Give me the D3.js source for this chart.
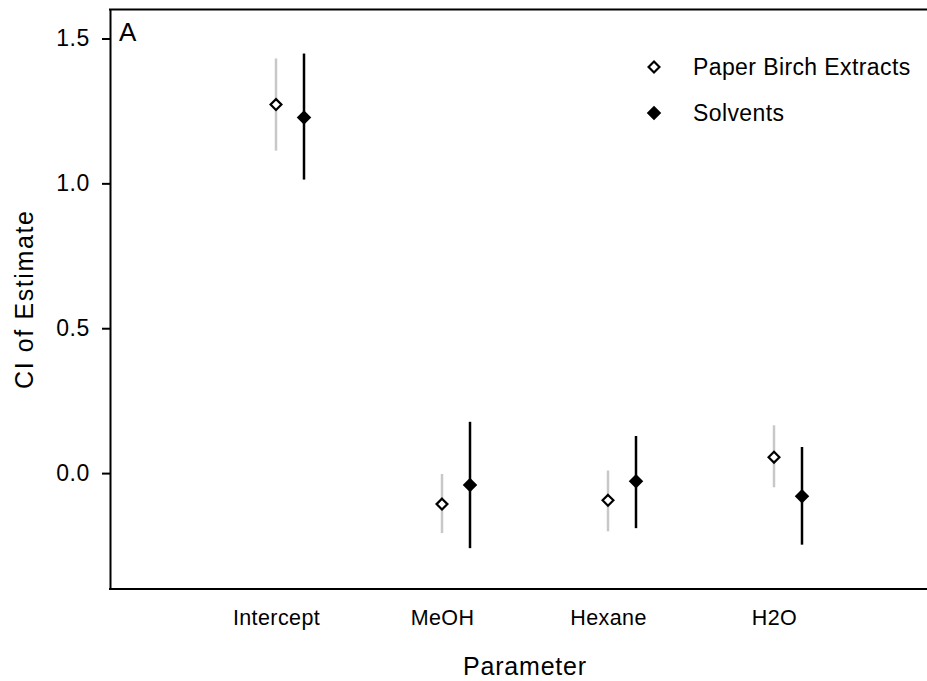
<!DOCTYPE html>
<html>
<head>
<meta charset="utf-8">
<script src="https://cdn.jsdelivr.net/npm/d3@7"></script>
<style>
  html, body { margin: 0; padding: 0; background: #fff; }
  svg { display: block; font-family: "Liberation Sans", Arial, sans-serif; }
</style>
</head>
<body>
<svg id="chart" width="927" height="681"></svg>
<script>
// ---- data ----
const categories = ["Intercept", "MeOH", "Hexane", "H2O"];
const birchEst = [1.272, -0.107, -0.094, 0.055];
const birchLo  = [1.113, -0.207, -0.201, -0.049];
const birchHi  = [1.431, -0.003, 0.009, 0.165];
const solvEst  = [1.227, -0.041, -0.028, -0.080];
const solvLo   = [1.013, -0.259, -0.190, -0.247];
const solvHi   = [1.448, 0.177, 0.128, 0.090];
const yTicks = [0.0, 0.5, 1.0, 1.5];
const seriesNames = ["Paper Birch Extracts", "Solvents"];

// ---- layout ----
const svg = d3.select("#chart");
const mLeft = 110, mRight = 940, mTop = 9.5, mBottom = 589;

const x = d3.scalePoint().domain(categories).range([mLeft, mRight]).padding(1);
const y = d3.scaleLinear().domain([-0.4, 1.6]).range([mBottom, mTop]);
const offset = 28;

// axes
const yAxis = svg.append("g").attr("transform", `translate(${mLeft},0)`)
  .call(d3.axisLeft(y).tickValues(yTicks).tickFormat(d3.format(".1f")).tickSize(8).tickSizeOuter(0).tickPadding(12));
yAxis.selectAll("path, line").attr("stroke", "#000").attr("stroke-width", 2);
yAxis.selectAll("text").attr("font-size", 23).attr("letter-spacing", 0.6).attr("fill", "#000")
  .attr("font-family", "Liberation Sans, Arial, sans-serif");

const xAxis = svg.append("g").attr("transform", `translate(0,${mBottom})`)
  .call(d3.axisBottom(x).tickSize(0).tickSizeOuter(0).tickPadding(21));
xAxis.select("path").attr("stroke", "#000").attr("stroke-width", 2).attr("d", `M${mLeft-1},0H${mRight}`);
xAxis.selectAll("text").attr("font-size", 21.5).attr("letter-spacing", 0.4).attr("fill", "#000")
  .attr("font-family", "Liberation Sans, Arial, sans-serif");

svg.append("line").attr("x1", mLeft - 1).attr("x2", mRight).attr("y1", mTop).attr("y2", mTop)
  .attr("stroke", "#000").attr("stroke-width", 2);

// axis titles
svg.append("text").attr("x", (mLeft + mRight) / 2).attr("y", 675)
  .attr("text-anchor", "middle").attr("font-size", 25).attr("letter-spacing", 0.8).attr("fill", "#000").text("Parameter");
svg.append("text").attr("transform", `translate(33,${(mTop + mBottom) / 2}) rotate(-90)`)
  .attr("text-anchor", "middle").attr("font-size", 25).attr("letter-spacing", 1.6).attr("fill", "#000").text("CI of Estimate");
svg.append("text").attr("x", 119).attr("y", 41).attr("font-size", 26).attr("fill", "#000").text("A");

// error bars
const g = svg.append("g");
g.selectAll(".bbar").data(categories).join("line")
  .attr("x1", d => x(d)).attr("x2", d => x(d))
  .attr("y1", (d, i) => y(birchLo[i])).attr("y2", (d, i) => y(birchHi[i]))
  .attr("stroke", "#c8c8c8").attr("stroke-width", 2.5);
g.selectAll(".sbar").data(categories).join("line")
  .attr("x1", d => x(d) + offset).attr("x2", d => x(d) + offset)
  .attr("y1", (d, i) => y(solvLo[i])).attr("y2", (d, i) => y(solvHi[i]))
  .attr("stroke", "#000").attr("stroke-width", 2.5);

const openDiamond = d3.symbol().type(d3.symbolDiamond2).size(75);
const fillDiamond = d3.symbol().type(d3.symbolDiamond2).size(135);

g.selectAll(".bpt").data(categories).join("path")
  .attr("d", openDiamond)
  .attr("transform", (d, i) => `translate(${x(d)},${y(birchEst[i])})`)
  .attr("fill", "#fff").attr("stroke", "#000").attr("stroke-width", 2.2);
g.selectAll(".spt").data(categories).join("path")
  .attr("d", fillDiamond)
  .attr("transform", (d, i) => `translate(${x(d) + offset},${y(solvEst[i])})`)
  .attr("fill", "#000");

// legend
const leg = svg.append("g");
leg.append("path").attr("d", openDiamond).attr("transform", "translate(654,67)")
  .attr("fill", "#fff").attr("stroke", "#000").attr("stroke-width", 2.2);
leg.append("path").attr("d", fillDiamond).attr("transform", "translate(654,113)").attr("fill", "#000");
leg.selectAll("text").data(seriesNames).join("text")
  .attr("x", 693).attr("y", (d, i) => 67 + i * 46).attr("dy", "0.35em")
  .attr("font-size", 23).attr("letter-spacing", 0.4).attr("fill", "#000").text(d => d);
</script>
</body>
</html>
